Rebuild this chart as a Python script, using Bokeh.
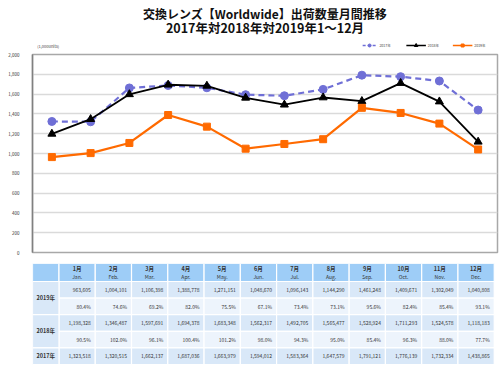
from bokeh.plotting import figure
from bokeh.models import (ColumnDataSource, FactorRange, Range1d, SingleIntervalTicker,
                          NumeralTickFormatter)
from bokeh.layouts import column
from bokeh.core.properties import value
from bokeh.embed import file_html
from bokeh.resources import INLINE

FONT = "Noto Sans CJK JP"

months_ja = ["1月", "2月", "3月", "4月", "5月", "6月", "7月", "8月", "9月", "10月", "11月", "12月"]
months_en = ["Jan.", "Feb.", "Mar.", "Apr.", "May.", "Jun.", "Jul.", "Aug.", "Sep.", "Oct.", "Nov.", "Dec."]

units_2019 = [963605, 1004101, 1106398, 1388778, 1271151, 1048670, 1096143, 1144290, 1461248, 1409671, 1302049, 1040808]
pct_2019 = [80.4, 74.6, 69.2, 82.0, 75.5, 67.1, 73.4, 73.1, 95.6, 82.4, 85.4, 93.1]
units_2018 = [1198328, 1346487, 1597691, 1694378, 1683348, 1562317, 1492705, 1565477, 1528924, 1711293, 1524578, 1118183]
pct_2018 = [90.5, 102.0, 96.1, 100.4, 101.2, 98.0, 94.3, 95.0, 85.4, 96.3, 88.0, 77.7]
units_2017 = [1323518, 1320515, 1662137, 1687036, 1663979, 1594012, 1583364, 1647579, 1791121, 1776139, 1732334, 1438865]

series_names = ["2017年", "2018年", "2019年"]
row_labels = ["2019年", "2018年", "2017年"]
title_lines = ["交換レンズ【Worldwide】出荷数量月間推移", "2017年対2018年対2019年1～12月"]
unit_label = "(1,000units)"

C17, C18, C19 = "#6f6fd6", "#000000", "#ff6a00"
W = 500

# ---------------- header (title, unit, legend) ----------------
HH = 50
h = figure(width=W, height=HH, x_range=Range1d(0, W), y_range=Range1d(0, HH),
           output_backend="svg", toolbar_location=None,
           min_border_left=0, min_border_right=0, min_border_top=0, min_border_bottom=0)
h.axis.visible = False
h.grid.visible = False
h.outline_line_color = None

h.text(x=[250], y=[37.5], text=[title_lines[0]], text_align="center", text_baseline="middle",
       text_font=value(FONT), text_font_size="12px", text_font_style="bold", text_color="#111111")
h.text(x=[250], y=[23.5], text=[title_lines[1]], text_align="center", text_baseline="middle",
       text_font=value(FONT), text_font_size="12.5px", text_font_style="bold", text_color="#111111")
h.text(x=[5], y=[5], text=[unit_label], text_align="left", text_baseline="middle",
       text_font=value(FONT), text_font_size="4px", text_color="#444444")

# legend samples
LY = 5
h.segment(x0=[355], y0=[LY], x1=[370], y1=[LY], line_color=C17, line_width=1.5, line_dash="3 2")
h.scatter(x=[362.5], y=[LY], marker="circle", size=3, color=C17)
h.segment(x0=[402], y0=[LY], x1=[423], y1=[LY], line_color=C18, line_width=1.5)
h.scatter(x=[412.5], y=[LY], marker="triangle", size=3.5, color=C18)
h.segment(x0=[452], y0=[LY], x1=[473], y1=[LY], line_color=C19, line_width=1.5)
h.scatter(x=[462.5], y=[LY], marker="square", size=3, color=C19)
h.text(x=[373, 425, 475], y=[LY] * 3, text=series_names, text_align="left", text_baseline="middle",
       text_font=value(FONT), text_font_size="3.5px", text_color="#444444")

# ---------------- chart ----------------
H1 = 213
p = figure(width=W, height=H1, x_range=FactorRange(factors=months_ja, range_padding=0),
           y_range=Range1d(0, 2000), output_backend="svg", toolbar_location=None,
           min_border_left=32, min_border_right=3, min_border_top=4, min_border_bottom=11,
           background_fill_color="white", border_fill_color="white")
p.outline_line_color = "#a8a8a8"
p.outline_line_width = 1.5
p.xaxis.visible = False
p.xgrid.visible = False
p.ygrid.grid_line_color = "#dadada"
p.ygrid.grid_line_width = 1.5
p.yaxis.ticker = SingleIntervalTicker(interval=200)
p.yaxis.formatter = NumeralTickFormatter(format="0,0")
p.yaxis.major_tick_line_color = None
p.yaxis.minor_tick_line_color = None
p.yaxis.axis_line_color = "#808080"
p.yaxis.axis_line_width = 1.5
p.yaxis.major_label_text_font_size = "4.5px"
p.yaxis.major_label_text_font = FONT
p.yaxis.major_label_text_color = "#333333"
p.yaxis.major_label_standoff = 7

k = lambda arr: [v / 1000 for v in arr]
src = ColumnDataSource(dict(m=months_ja, a=k(units_2017), b=k(units_2018), c=k(units_2019)))

p.line("m", "a", source=src, color=C17, line_width=2.2, line_dash="6 4")
p.scatter("m", "a", source=src, marker="circle", size=8, color=C17)
p.line("m", "b", source=src, color=C18, line_width=1.8)
p.scatter("m", "b", source=src, marker="triangle", size=8, color=C18)
p.line("m", "c", source=src, color=C19, line_width=2.2)
p.scatter("m", "c", source=src, marker="square", size=7, color=C19)

# ---------------- table ----------------
H2 = 365 - HH - H1
w0 = 0.73
hh = 1.085
t = figure(width=W, height=H2, x_range=Range1d(-w0, 12.09), y_range=Range1d(-0.06, 5 + hh),
           output_backend="svg", toolbar_location=None,
           min_border_left=0, min_border_right=0, min_border_top=0, min_border_bottom=0)
t.axis.visible = False
t.grid.visible = False
t.outline_line_color = None

HEAD = "#9ecdf7"
VAL = "#d9e8f8"
PCT = "#edf4fc"

hx = [-w0 / 2] + [i + 0.5 for i in range(12)]
hw = [w0] + [1] * 12
t.rect(x=hx, y=[5 + hh / 2] * 13, width=hw, height=hh, fill_color=HEAD,
       line_color="white", line_width=1.2)
rows_y = [4.5, 3.5, 2.5, 1.5, 0.5]
rows_c = [VAL, PCT, VAL, PCT, VAL]
cx, cy, cc = [], [], []
for ry, rc in zip(rows_y, rows_c):
    for i in range(12):
        cx.append(i + 0.5); cy.append(ry); cc.append(rc)
t.rect(x=cx, y=cy, width=1, height=1, fill_color=cc, line_color="white", line_width=1.2)
t.rect(x=[-w0 / 2] * 3, y=[4, 2, 0.5], width=w0, height=[2, 2, 1],
       fill_color=VAL, line_color="white", line_width=1.2)

txt = dict(text_font=value(FONT), text_color="#333333", text_baseline="middle")
mx = [i + 0.5 for i in range(12)]
t.text(x=mx, y=[5 + hh / 2] * 12, text=months_ja, text_align="center", y_offset=-4,
       text_font_size="5.5px", text_font_style="bold", **txt)
t.text(x=mx, y=[5 + hh / 2] * 12, text=months_en, text_align="center", y_offset=4,
       text_font_size="5px", **txt)
t.text(x=[-w0 / 2] * 3, y=[4, 2, 0.5], text=row_labels, text_align="center",
       text_font_size="5.5px", text_font_style="bold", **txt)

rx = [i + 1 for i in range(12)]
fmt_u = lambda arr: [f"{v:,}" for v in arr]
fmt_p = lambda arr: [f"{v:.1f}%" for v in arr]
for ry, labels in zip(rows_y, [fmt_u(units_2019), fmt_p(pct_2019), fmt_u(units_2018),
                               fmt_p(pct_2018), fmt_u(units_2017)]):
    t.text(x=rx, y=[ry] * 12, text=labels, text_align="right", x_offset=-4.5,
           text_font_size="5px", **txt)

layout = column(h, p, t, spacing=0)
open("out.html", "w").write(file_html(layout, INLINE))
